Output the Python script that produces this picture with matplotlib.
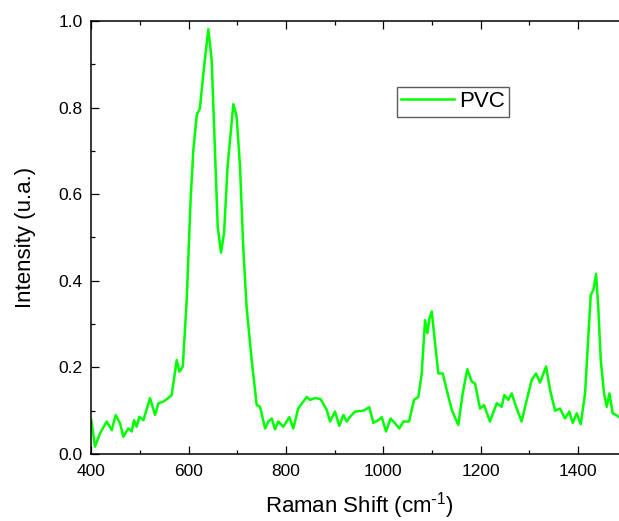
import numpy as np
import matplotlib
matplotlib.use("Agg")
import matplotlib.pyplot as plt
from matplotlib.ticker import MultipleLocator

plt.rcParams['font.family'] = ['Liberation Sans', 'DejaVu Sans']

# Raman shift (cm-1) and intensity
shift = [400, 407.6, 418, 431.6, 442, 450, 459, 465.8, 476, 483, 487.7, 493, 498.7,
         507, 520.6, 531, 537.7, 548, 558, 565, 575.5, 581, 588, 596, 604, 609.6,
         616.6, 623, 631.6, 640.4, 647.3, 654, 659.7, 666.5, 672.7, 680, 691.8,
         698.6, 705.5, 712.4, 719, 729.5, 739.8, 746.6, 757, 763.7, 770.6, 777.5,
         784, 794.5, 806.8, 815, 825, 842.6, 849.4, 859.6, 871, 883.6, 890.4,
         900.7, 909.5, 917.8, 924.7, 931.5, 941.8, 958.9, 971.2, 979.4, 989.7,
         996.6, 1005.4, 1015, 1023.9, 1032.8, 1041, 1052.8, 1063, 1071.9, 1078.8,
         1085.7, 1090.5, 1094.6, 1099.4, 1106.2, 1113, 1122, 1130.2, 1140.5, 1154,
         1163, 1172.5, 1181.5, 1188.3, 1198.6, 1206.8, 1219, 1232.9, 1243, 1248.5,
         1256.8, 1263.6, 1273.9, 1284, 1294.6, 1304.8, 1313.7, 1321.9, 1334.3,
         1342.5, 1352.7, 1363, 1373.2, 1382, 1389, 1397.2, 1405.5, 1414.4, 1421.2,
         1426, 1431.5, 1437, 1441.8, 1446.6, 1453.4, 1459, 1464.4, 1471.2, 1478,
         1484.4]
intensity = [0.078, 0.017, 0.048, 0.075, 0.055, 0.09, 0.071, 0.04, 0.059, 0.052,
             0.078, 0.063, 0.086, 0.078, 0.129, 0.09, 0.117, 0.121, 0.129, 0.136,
             0.217, 0.19, 0.202, 0.356, 0.587, 0.702, 0.783, 0.798, 0.894, 0.981,
             0.91, 0.702, 0.525, 0.465, 0.51, 0.664, 0.808, 0.779, 0.664, 0.471,
             0.34, 0.217, 0.113, 0.109, 0.059, 0.075, 0.082, 0.057, 0.075, 0.063,
             0.085, 0.059, 0.105, 0.132, 0.125, 0.129, 0.127, 0.102, 0.075, 0.098,
             0.065, 0.09, 0.075, 0.086, 0.098, 0.1, 0.108, 0.072, 0.078, 0.085,
             0.052, 0.082, 0.071, 0.059, 0.075, 0.075, 0.125, 0.132, 0.186, 0.309,
             0.279, 0.313, 0.329, 0.256, 0.186, 0.186, 0.148, 0.102, 0.067, 0.14,
             0.196, 0.167, 0.163, 0.105, 0.113, 0.075, 0.117, 0.109, 0.136, 0.125,
             0.14, 0.105, 0.075, 0.125, 0.171, 0.186, 0.165, 0.202, 0.148, 0.1,
             0.105, 0.082, 0.098, 0.072, 0.094, 0.069, 0.14, 0.271, 0.367, 0.379,
             0.416, 0.333, 0.217, 0.14, 0.109, 0.14, 0.094, 0.09, 0.085]

fig = plt.figure(figsize=(6.19, 5.21), dpi=100)
# axes runs past the right edge of the figure, as in the cropped reference
ax = fig.add_axes([0.1475, 0.1286, 0.865, 0.8311])

ax.plot(shift, intensity, color='#00ff00', lw=1.8, label='PVC')

ax.set_xlim(400, 1500)
ax.set_ylim(0, 1.0)
ax.xaxis.set_major_locator(MultipleLocator(200))
ax.xaxis.set_minor_locator(MultipleLocator(100))
ax.yaxis.set_major_locator(MultipleLocator(0.2))
ax.yaxis.set_minor_locator(MultipleLocator(0.1))
ax.yaxis.set_major_formatter(matplotlib.ticker.FormatStrFormatter('%.1f'))

ax.tick_params(which='both', direction='in', top=True, right=True, width=0.9,
               labelsize=12.5)
ax.tick_params(which='major', length=6)
ax.tick_params(which='minor', length=3)
ax.tick_params(axis='x', pad=7)
ax.tick_params(axis='y', pad=6)
for s in ax.spines.values():
    s.set_linewidth(1.1)

ax.set_xlabel('Raman Shift (cm$^{\\mathregular{\\text{-}1}}$)', fontsize=16, labelpad=8)
ax.set_ylabel('Intensity (u.a.)', fontsize=16, labelpad=16)

leg = ax.legend(loc='upper left', bbox_to_anchor=(0.571, 0.848), fontsize=16,
                frameon=True, fancybox=False, borderpad=0.2, handlelength=2.35,
                handletextpad=0.25, borderaxespad=0)
leg.get_frame().set_edgecolor('#333333')
leg.get_frame().set_linewidth(1.0)

fig.savefig('out.png', dpi=100)
